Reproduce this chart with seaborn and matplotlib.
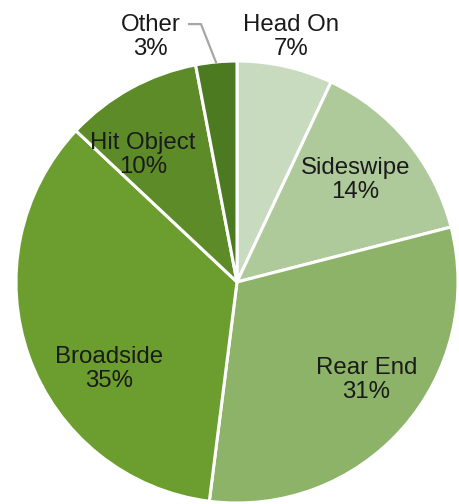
import numpy as np
import matplotlib
matplotlib.use("Agg")
import matplotlib.pyplot as plt
import seaborn as sns

categories = ["Head On", "Sideswipe", "Rear End", "Broadside", "Hit Object", "Other"]
shares = [7, 14, 31, 35, 10, 3]
colors = ["#c9dbbe", "#aec99a", "#8cb368", "#6b9e2e", "#5d8b28", "#4b7a21"]

sns.set_theme(style="white")
plt.rcParams["font.family"] = ["Liberation Sans", "DejaVu Sans"]

W, H, DPI = 460, 504, 100
fig = plt.figure(figsize=(W / DPI, H / DPI), dpi=DPI)
cx, cy, R = 237, 282, 221
ax = fig.add_axes([(cx - R) / W, (H - cy - R) / H, 2 * R / W, 2 * R / H])

wedges, _ = ax.pie(
    shares,
    colors=colors,
    startangle=90,
    counterclock=False,
    radius=1.0,
    wedgeprops=dict(edgecolor="white", linewidth=2.2),
)
ax.set_xlim(-1, 1)
ax.set_ylim(-1, 1)
ax.set_aspect("equal")
ax.axis("off")

# label anchor points in pie units (centre = origin, radius = 1)
label_pos = {
    "Head On": (0.245, 1.11),
    "Sideswipe": (0.535, 0.46),
    "Rear End": (0.585, -0.445),
    "Broadside": (-0.58, -0.395),
    "Hit Object": (-0.425, 0.575),
    "Other": (-0.39, 1.11),
}

for name, val in zip(categories, shares):
    x, y = label_pos[name]
    ax.text(x, y, f"{name}\n{val}%", ha="center", va="center",
            fontsize=17.3, color="#1a1a1a", linespacing=1.12, clip_on=False)

# leader line from the "Other" label to its wedge
w = wedges[categories.index("Other")]
mid = np.deg2rad((w.theta1 + w.theta2) / 2)
ex, ey = np.cos(mid) * 0.995, np.sin(mid) * 0.995
ax.plot([-0.222, -0.163, ex], [1.167, 1.167, ey], color="#a6a6a6",
        linewidth=1.6, clip_on=False, solid_capstyle="butt")

fig.savefig("out.png", dpi=DPI, facecolor="white")
